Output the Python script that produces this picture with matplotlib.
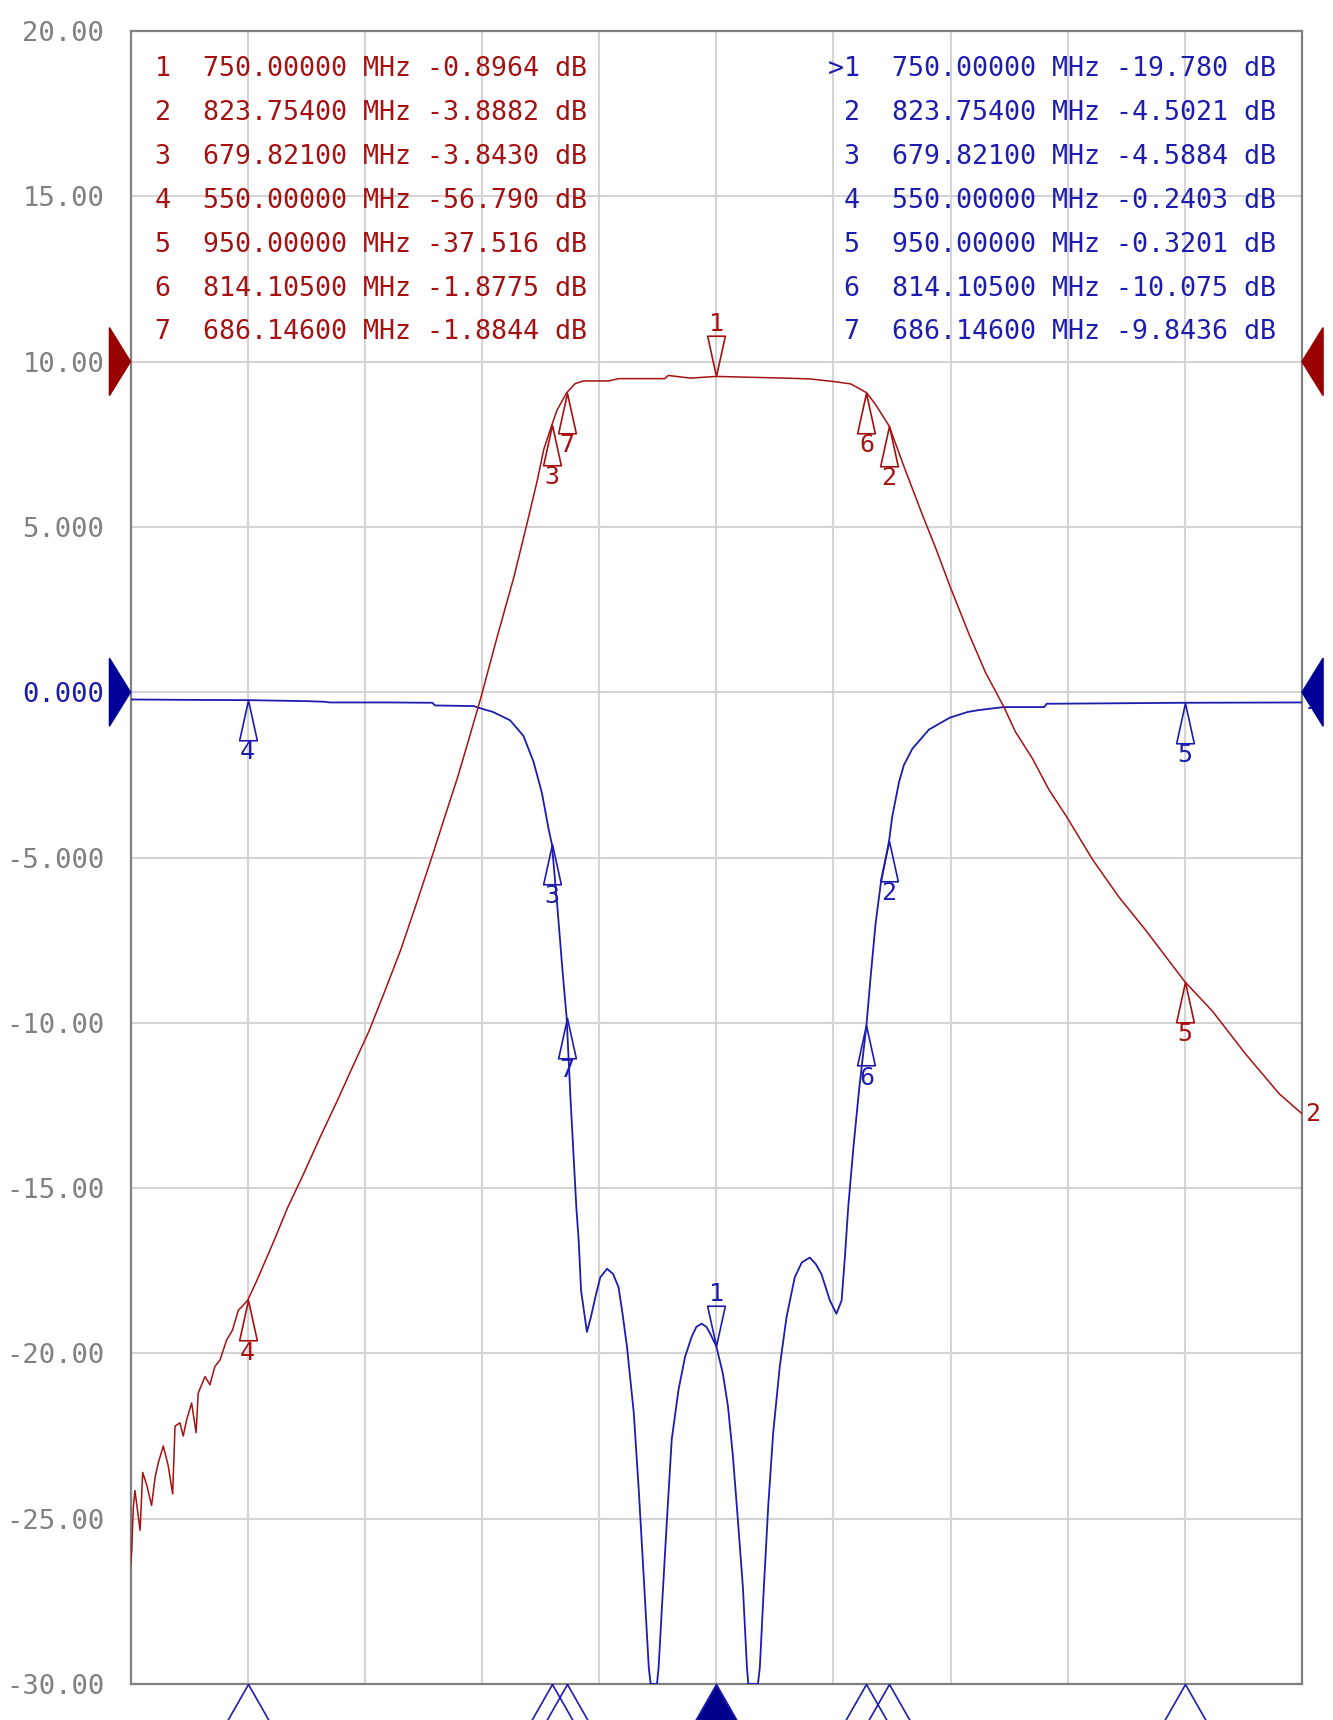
import matplotlib
matplotlib.use("Agg")
import matplotlib.pyplot as plt
from matplotlib.path import Path
from matplotlib.patches import Polygon
import numpy as np

# ---------------- data ----------------
# S11 (blue trace), dB
s11_freq = [500, 520, 550, 575, 583, 585, 610, 628.8, 630, 646.5, 650, 654.8, 662.0, 667.7,
            672.0, 675.6, 678.5, 679.821, 682.2, 684.3, 686.146, 687.8, 690.3,
            691.3, 692.3, 694.8, 696.5, 698.4, 700.5, 703.4, 706.0, 708.3, 710.0, 711.9,
            714.8, 716.9, 719.0, 721.2, 722.0, 724.7, 725.4, 726.8, 728.9, 731.0, 733.9,
            736.7, 739.5, 741.5, 743.8, 745.8, 747.4, 750.0, 752.8, 755.0, 757.1, 759.3,
            761.4, 763.1, 763.7, 767.8, 768.6, 770.3, 772.2, 774.3, 777.1, 780.0, 783.5,
            786.5, 789.9, 792.5, 794.9, 798.5, 801.3, 803.5, 804.9, 806.3, 808.5, 811.0,
            814.105, 815.9, 818.0, 820.2, 823.754, 825.1, 828.0, 830.1, 833.7, 840.8,
            849.7, 857.2, 862.1, 872.8, 890.0, 891.0, 950, 1000]
s11_db = [-0.22, -0.23, -0.24, -0.27, -0.29, -0.31, -0.31, -0.32, -0.40, -0.42, -0.50,
          -0.60, -0.85, -1.32, -2.10, -3.05, -4.16, -4.5884, -6.5, -8.35, -9.8436,
          -12.3, -15.6, -16.6, -18.1, -19.35, -18.9, -18.3, -17.7, -17.44, -17.6, -18.0,
          -18.8, -19.8, -21.8, -24.1, -26.7, -29.5, -31.0, -31.0, -29.5, -27.7, -25.1,
          -22.6, -21.1, -20.1, -19.5, -19.2, -19.1, -19.2, -19.4, -19.78, -20.6, -21.6,
          -23.1, -25.1, -27.1, -29.5, -31.0, -31.0, -29.5, -27.1, -24.6, -22.4, -20.4,
          -18.9, -17.7, -17.25, -17.1, -17.3, -17.6, -18.4, -18.8, -18.4, -17.1, -15.6,
          -13.8, -12.0, -10.075, -8.6, -7.0, -5.8, -4.5021, -3.77, -2.72, -2.2, -1.71,
          -1.13, -0.77, -0.60, -0.54, -0.45, -0.45, -0.35, -0.3201, -0.31]

# S21 (red trace), dB
s21_freq = [500.0, 500.5, 501.2, 501.9, 503.0, 504.1, 505.2, 507.0, 509.0, 510.5, 511.9,
            514.0, 516.1, 518.0, 519.0, 521.1, 522.5, 524.0, 526.1, 528.0, 528.9, 531.8,
            533.9, 536.0, 538.2, 541.0, 543.5, 546.0, 550.0, 553.9, 561.2, 567.0, 574.0,
            581.0, 588.3, 595.0, 601.8, 608.5, 615.3, 622.0, 628.8, 634.0, 639.5, 644.5,
            649.4, 656.6, 663.7, 669.4, 673.6, 676.4, 679.821, 682.0, 686.146, 689.8,
            693.4, 704.1, 708.3, 728.0, 729.5, 732.0, 739, 750, 765, 780, 790, 800.3,
            807.4, 814.105, 818, 823.754, 830.1, 837.9, 843.6, 849.7, 857.8, 864.9,
            872.8, 877.7, 884.9, 892.0, 899.4, 910.5, 921.9, 933.3, 950.0, 961.8, 976.0,
            990.3, 1000]
s21_db = [-72.8, -72.0, -69.3, -68.3, -69.5, -70.7, -67.2, -68.0, -69.2, -67.5, -66.6,
          -65.6, -66.8, -68.5, -64.4, -64.2, -65.0, -64.0, -63.0, -64.8, -62.4, -61.4,
          -61.9, -60.8, -60.4, -59.2, -58.6, -57.4, -56.79, -55.6, -53.2, -51.2, -49.1,
          -46.9, -44.7, -42.6, -40.5, -38.1, -35.6, -32.8, -29.9, -27.6, -25.2, -22.8,
          -20.4, -16.6, -13.0, -9.7, -7.2, -5.3, -3.843, -2.95, -1.8844, -1.33,
          -1.17, -1.17, -1.03, -1.03, -0.84, -0.88, -1.0, -0.8964, -0.95, -1.0, -1.05,
          -1.21, -1.35, -1.8775, -2.6, -3.8882, -6.34, -9.24, -11.26, -13.57, -16.46,
          -18.8, -20.9, -22.4, -24.0, -25.9, -27.5, -30.1, -32.4, -34.4, -37.516,
          -39.3, -41.9, -44.3, -45.5]

marker_ids = [1, 2, 3, 4, 5, 6, 7]
marker_freq = [750.0, 823.754, 679.821, 550.0, 950.0, 814.105, 686.146]
marker_s21 = [-0.8964, -3.8882, -3.8430, -56.790, -37.516, -1.8775, -1.8844]
marker_s11 = [-19.780, -4.5021, -4.5884, -0.2403, -0.3201, -10.075, -9.8436]
marker_freq_txt = ["750.00000", "823.75400", "679.82100", "550.00000",
                   "950.00000", "814.10500", "686.14600"]
marker_s21_txt = ["-0.8964", "-3.8882", "-3.8430", "-56.790", "-37.516", "-1.8775", "-1.8844"]
marker_s11_txt = ["-19.780", "-4.5021", "-4.5884", "-0.2403", "-0.3201", "-10.075", "-9.8436"]

y_ticks = [20, 15, 10, 5, 0, -5, -10, -15, -20, -25, -30]
y_tick_labels = ["20.00", "15.00", "10.00", "5.000", "0.000", "-5.000",
                 "-10.00", "-15.00", "-20.00", "-25.00", "-30.00"]
x_grid = [500, 550, 600, 650, 700, 750, 800, 850, 900, 950, 1000]

# ---------------- style ----------------
RED = "#a61010"
BLUE = "#1c1cae"
RED_ARROW = "#990000"
BLUE_ARROW = "#000099"
GRAY = "#808080"
GRID = "#d4d4d4"
MONO = "DejaVu Sans Mono"

W, H = 1333, 1720
fig = plt.figure(figsize=(W / 100, H / 100), dpi=100)
left, right, top, bottom = 130.5, 1302, 31, 1684
ax = fig.add_axes([left / W, 1 - bottom / H, (right - left) / W, (bottom - top) / H])
ax.set_xlim(500, 1000)
ax.set_ylim(-30, 20)
ax.set_xticks(x_grid)
ax.set_xticklabels([])
ax.set_yticks(y_ticks)
ax.set_yticklabels(y_tick_labels, fontfamily=MONO, fontsize=19.5, color=GRAY)
for lab in ax.get_yticklabels():
    if lab.get_text() == "0.000":
        lab.set_color(BLUE)
ax.tick_params(length=0, pad=19)
ax.grid(True, color=GRID, lw=1.5)
ax.set_axisbelow(True)
for s in ax.spines.values():
    s.set_color(GRAY)
    s.set_linewidth(1.6)

ax2 = ax.twinx()
ax2.set_ylim(-80, 20)
ax2.set_yticks([])
for s in ax2.spines.values():
    s.set_visible(False)

# traces
ax.plot(s11_freq, np.maximum(np.array(s11_db), -30), color=BLUE, lw=1.3, zorder=3)
ax2.plot(s21_freq, s21_db, color=RED, lw=1.1, zorder=3)

# marker shapes
below_tri = Path([(0, 0), (-0.22, -1), (0.22, -1), (0, 0)],
                 [Path.MOVETO, Path.LINETO, Path.LINETO, Path.CLOSEPOLY])
above_tri = Path([(0, 0), (-0.22, 1), (0.22, 1), (0, 0)],
                 [Path.MOVETO, Path.LINETO, Path.LINETO, Path.CLOSEPOLY])
stim_tri = Path([(0, 0), (-0.57, -1), (0.57, -1), (0, 0)],
                [Path.MOVETO, Path.LINETO, Path.LINETO, Path.CLOSEPOLY])

for axis, vals, col in ((ax, marker_s11, BLUE), (ax2, marker_s21, RED)):
    for mid, f, v in zip(marker_ids, marker_freq, vals):
        if mid == 1:
            axis.plot([f], [v], marker=above_tri, ms=58, mfc="none", mec=col, mew=1.2,
                      zorder=4)
            axis.annotate(str(mid), xy=(f, v), xytext=(0, 29), textcoords="offset points",
                          ha="center", va="bottom", fontsize=18, color=col,
                          fontfamily=MONO, zorder=4)
        else:
            axis.plot([f], [v], marker=below_tri, ms=58, mfc="none", mec=col, mew=1.2,
                      zorder=4)
            axis.annotate(str(mid), xy=(f, v), xytext=(0, -29), textcoords="offset points",
                          ha="center", va="top", fontsize=18, color=col,
                          fontfamily=MONO, zorder=4)

# stimulus markers along the bottom edge
for mid, f in zip(marker_ids, marker_freq):
    active = (mid == 1)
    ax.plot([f], [-30], marker=stim_tri, ms=66, mfc=("#00008b" if active else "none"),
            mec=BLUE, mew=1.2, clip_on=False, zorder=5)

# trace end labels
ax2.annotate("2", xy=(1000, s21_db[-1]), xytext=(2, 0), textcoords="offset points",
             ha="left", va="center", fontsize=18, color=RED, fontfamily=MONO)
ax.annotate("1", xy=(1000, s11_db[-1]), xytext=(2, 0), textcoords="offset points",
            ha="left", va="center", fontsize=18, color=BLUE, fontfamily=MONO, zorder=1)

# reference level arrows
tr = ax.get_yaxis_transform()
aw, ah = 0.018, 1.03
for lvl, col in ((10, RED_ARROW), (0, BLUE_ARROW)):
    ax.add_patch(Polygon([(0, lvl), (-aw, lvl + ah), (-aw, lvl - ah)], closed=True,
                         transform=tr, color=col, clip_on=False, zorder=6))
    ax.add_patch(Polygon([(1, lvl), (1 + aw, lvl + ah), (1 + aw, lvl - ah)], closed=True,
                         transform=tr, color=col, clip_on=False, zorder=6))

# marker tables
row_y0, row_dy = 69, 43.9
for i, mid in enumerate(marker_ids):
    yy = 1 - (row_y0 + i * row_dy) / H
    red_line = f"{mid}  {marker_freq_txt[i]} MHz {marker_s21_txt[i]} dB"
    blue_line = f"{'>' if mid == 1 else ' '}{mid}  {marker_freq_txt[i]} MHz {marker_s11_txt[i]} dB"
    fig.text(155 / W, yy, red_line, fontfamily=MONO, fontsize=19.2, color=RED,
             ha="left", va="center")
    fig.text(828 / W, yy, blue_line, fontfamily=MONO, fontsize=19.2, color=BLUE,
             ha="left", va="center")

fig.savefig("out.png", dpi=100)
